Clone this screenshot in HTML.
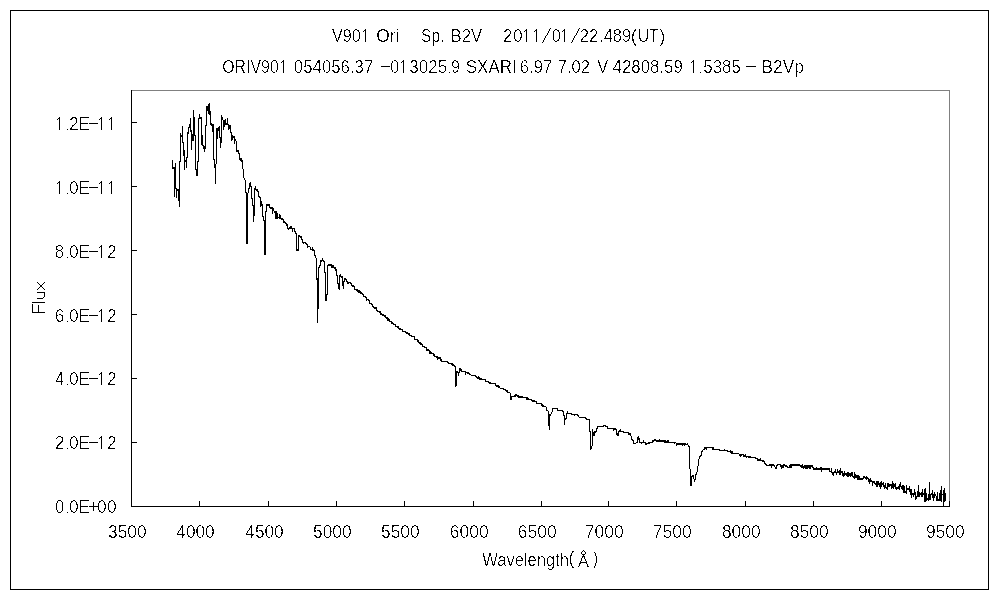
<!DOCTYPE html>
<html><head><meta charset="utf-8"><style>
html,body{margin:0;padding:0;background:#fff;}
svg{display:block;}
text{font-family:"Liberation Sans",sans-serif;font-size:18px;fill:#000;}
</style></head><body>
<svg width="1000" height="600" viewBox="0 0 1000 600">
<defs><filter id="bin" x="0" y="0" width="100%" height="100%" filterUnits="userSpaceOnUse"><feComponentTransfer><feFuncA type="discrete" tableValues="0 0 1"/></feComponentTransfer></filter></defs>
<rect x="0" y="0" width="1000" height="600" fill="#fff"/>
<g shape-rendering="crispEdges">
<rect x="10.5" y="10.5" width="978" height="579" fill="none" stroke="#000"/>
<line x1="131" y1="90.5" x2="950" y2="90.5" stroke="#808080"/>
<line x1="949.5" y1="90" x2="949.5" y2="506" stroke="#808080"/>
<line x1="131.5" y1="90" x2="131.5" y2="507" stroke="#000"/>
<line x1="131" y1="506.5" x2="950" y2="506.5" stroke="#000"/>
<line x1="131.5" y1="501" x2="131.5" y2="506" stroke="#000"/>
<line x1="199.5" y1="501" x2="199.5" y2="506" stroke="#000"/>
<line x1="268.5" y1="501" x2="268.5" y2="506" stroke="#000"/>
<line x1="336.5" y1="501" x2="336.5" y2="506" stroke="#000"/>
<line x1="404.5" y1="501" x2="404.5" y2="506" stroke="#000"/>
<line x1="473.5" y1="501" x2="473.5" y2="506" stroke="#000"/>
<line x1="541.5" y1="501" x2="541.5" y2="506" stroke="#000"/>
<line x1="608.5" y1="501" x2="608.5" y2="506" stroke="#000"/>
<line x1="676.5" y1="501" x2="676.5" y2="506" stroke="#000"/>
<line x1="745.5" y1="501" x2="745.5" y2="506" stroke="#000"/>
<line x1="813.5" y1="501" x2="813.5" y2="506" stroke="#000"/>
<line x1="881.5" y1="501" x2="881.5" y2="506" stroke="#000"/>
<line x1="949.5" y1="501" x2="949.5" y2="506" stroke="#000"/>
<line x1="131" y1="506.5" x2="137" y2="506.5" stroke="#000"/>
<line x1="131" y1="442.5" x2="137" y2="442.5" stroke="#000"/>
<line x1="131" y1="378.5" x2="137" y2="378.5" stroke="#000"/>
<line x1="131" y1="314.5" x2="137" y2="314.5" stroke="#000"/>
<line x1="131" y1="250.5" x2="137" y2="250.5" stroke="#000"/>
<line x1="131" y1="186.5" x2="137" y2="186.5" stroke="#000"/>
<line x1="131" y1="122.5" x2="137" y2="122.5" stroke="#000"/>
<path fill="#000" d="M172 160h1v9h-1zM173 167h1v2h-1zM174 167h1v30h-1zM175 163h1v26h-1zM176 188h1v10h-1zM177 189h1v2h-1zM178 189h1v12h-1zM179 161h1v46h-1zM180 133h1v29h-1zM181 135h1v2h-1zM182 126h1v17h-1zM183 142h1v14h-1zM184 150h1v20h-1zM185 160h1v2h-1zM186 157h1v11h-1zM187 132h1v26h-1zM188 127h1v7h-1zM189 124h1v4h-1zM190 118h1v14h-1zM191 130h1v20h-1zM192 134h1v7h-1zM193 110h1v31h-1zM194 117h1v19h-1zM195 135h1v35h-1zM196 169h1v7h-1zM197 161h1v15h-1zM198 118h1v44h-1zM199 114h1v5h-1zM200 117h1v2h-1zM201 117h1v28h-1zM202 135h1v11h-1zM203 145h1v4h-1zM204 146h1v6h-1zM205 125h1v24h-1zM206 106h1v20h-1zM207 106h1v5h-1zM208 104h1v10h-1zM209 103h1v12h-1zM210 111h1v14h-1zM211 123h1v3h-1zM212 124h1v8h-1zM213 124h1v36h-1zM214 159h1v9h-1zM215 164h1v20h-1zM216 128h1v36h-1zM217 128h1v11h-1zM218 127h1v4h-1zM219 126h1v12h-1zM220 137h1v11h-1zM221 115h1v28h-1zM222 117h1v3h-1zM223 120h1v10h-1zM224 120h1v7h-1zM225 119h1v6h-1zM226 123h1v2h-1zM227 118h1v7h-1zM228 124h1v6h-1zM229 125h1v4h-1zM230 125h1v8h-1zM231 132h1v9h-1zM232 135h1v5h-1zM233 136h1v2h-1zM234 136h1v8h-1zM235 139h1v2h-1zM236 141h1v11h-1zM237 150h1v2h-1zM238 150h1v4h-1zM239 153h1v7h-1zM240 158h1v3h-1zM241 158h1v4h-1zM242 160h1v9h-1zM243 169h1v9h-1zM244 178h1v2h-1zM245 180h1v13h-1zM246 192h1v52h-1zM247 193h1v51h-1zM248 188h1v5h-1zM249 183h1v6h-1zM250 182h1v5h-1zM251 186h1v13h-1zM252 198h1v8h-1zM253 205h1v17h-1zM254 188h1v28h-1zM255 186h1v4h-1zM256 189h1v2h-1zM257 189h1v3h-1zM258 191h1v6h-1zM259 196h1v2h-1zM260 197h1v10h-1zM261 201h1v5h-1zM262 204h1v13h-1zM263 216h1v5h-1zM264 220h1v35h-1zM265 211h1v44h-1zM266 204h1v8h-1zM267 204h1v2h-1zM268 204h1v2h-1zM269 204h1v4h-1zM270 207h1v2h-1zM271 207h1v2h-1zM272 207h1v7h-1zM273 208h1v3h-1zM274 211h1v2h-1zM275 211h1v8h-1zM276 211h1v8h-1zM277 213h1v6h-1zM278 217h1v1h-1zM279 214h1v5h-1zM280 215h1v4h-1zM281 218h1v2h-1zM282 218h1v2h-1zM283 219h1v4h-1zM284 221h1v2h-1zM285 222h1v2h-1zM286 223h1v3h-1zM287 224h1v5h-1zM288 228h1v2h-1zM289 227h1v2h-1zM290 226h1v3h-1zM291 226h1v3h-1zM292 228h1v4h-1zM293 228h1v1h-1zM294 228h1v4h-1zM295 231h1v3h-1zM296 233h1v18h-1zM297 249h1v2h-1zM298 235h1v16h-1zM299 235h1v2h-1zM300 236h1v2h-1zM301 236h1v4h-1zM302 239h1v4h-1zM303 242h1v2h-1zM304 242h1v1h-1zM305 242h1v2h-1zM306 243h1v2h-1zM307 244h1v4h-1zM308 246h1v1h-1zM309 246h1v1h-1zM310 247h1v3h-1zM311 249h1v1h-1zM312 247h1v4h-1zM313 249h1v2h-1zM314 250h1v6h-1zM315 255h1v3h-1zM316 258h1v22h-1zM317 278h1v45h-1zM318 267h1v42h-1zM319 265h1v3h-1zM320 260h1v6h-1zM321 260h1v2h-1zM322 258h1v3h-1zM323 260h1v2h-1zM324 261h1v12h-1zM325 272h1v29h-1zM326 294h1v7h-1zM327 265h1v30h-1zM328 264h1v2h-1zM329 264h1v2h-1zM330 264h1v2h-1zM331 264h1v4h-1zM332 265h1v3h-1zM333 265h1v3h-1zM334 267h1v2h-1zM335 267h1v4h-1zM336 269h1v7h-1zM337 275h1v9h-1zM338 283h1v6h-1zM339 275h1v15h-1zM340 274h1v3h-1zM341 276h1v2h-1zM342 276h1v10h-1zM343 281h1v8h-1zM344 278h1v4h-1zM345 278h1v2h-1zM346 279h1v3h-1zM347 281h1v3h-1zM348 282h1v2h-1zM349 282h1v1h-1zM350 282h1v2h-1zM351 283h1v3h-1zM352 285h1v2h-1zM353 285h1v2h-1zM354 286h1v4h-1zM355 289h1v1h-1zM356 289h1v2h-1zM357 289h1v3h-1zM358 290h1v3h-1zM359 290h1v3h-1zM360 291h1v3h-1zM361 292h1v2h-1zM362 293h1v2h-1zM363 294h1v3h-1zM364 296h1v1h-1zM365 296h1v2h-1zM366 297h1v4h-1zM367 299h1v1h-1zM368 299h1v2h-1zM369 300h1v4h-1zM370 303h1v1h-1zM371 303h1v2h-1zM372 304h1v3h-1zM373 306h1v2h-1zM374 307h1v2h-1zM375 307h1v2h-1zM376 307h1v4h-1zM377 310h1v2h-1zM378 311h1v1h-1zM379 311h1v2h-1zM380 311h1v4h-1zM381 313h1v2h-1zM382 314h1v2h-1zM383 314h1v2h-1zM384 315h1v2h-1zM385 315h1v3h-1zM386 317h1v2h-1zM387 317h1v4h-1zM388 318h1v3h-1zM389 319h1v3h-1zM390 321h1v1h-1zM391 321h1v3h-1zM392 322h1v2h-1zM393 323h1v2h-1zM394 324h1v1h-1zM395 324h1v3h-1zM396 326h1v1h-1zM397 326h1v2h-1zM398 326h1v3h-1zM399 328h1v2h-1zM400 328h1v2h-1zM401 329h1v1h-1zM402 329h1v3h-1zM403 331h1v1h-1zM404 331h1v1h-1zM405 331h1v2h-1zM406 332h1v2h-1zM407 332h1v2h-1zM408 333h1v2h-1zM409 333h1v3h-1zM410 335h1v1h-1zM411 335h1v2h-1zM412 336h1v1h-1zM413 336h1v1h-1zM414 336h1v4h-1zM415 339h1v1h-1zM416 339h1v1h-1zM417 339h1v3h-1zM418 340h1v3h-1zM419 342h1v2h-1zM420 342h1v3h-1zM421 343h1v2h-1zM422 344h1v3h-1zM423 346h1v1h-1zM424 346h1v2h-1zM425 347h1v1h-1zM426 347h1v4h-1zM427 349h1v2h-1zM428 349h1v2h-1zM429 350h1v4h-1zM430 351h1v3h-1zM431 352h1v2h-1zM432 353h1v1h-1zM433 353h1v3h-1zM434 354h1v3h-1zM435 356h1v1h-1zM436 356h1v2h-1zM437 356h1v4h-1zM438 357h1v2h-1zM439 357h1v2h-1zM440 357h1v4h-1zM441 359h1v3h-1zM442 361h1v1h-1zM443 361h1v1h-1zM444 361h1v1h-1zM445 361h1v1h-1zM446 361h1v1h-1zM447 361h1v2h-1zM448 362h1v2h-1zM449 363h1v1h-1zM450 363h1v1h-1zM451 363h1v2h-1zM452 363h1v3h-1zM453 364h1v2h-1zM454 365h1v2h-1zM455 366h1v21h-1zM456 371h1v15h-1zM457 371h1v2h-1zM458 372h1v4h-1zM459 368h1v5h-1zM460 368h1v3h-1zM461 369h1v3h-1zM462 371h1v1h-1zM463 371h1v1h-1zM464 371h1v1h-1zM465 371h1v4h-1zM466 372h1v1h-1zM467 372h1v2h-1zM468 372h1v2h-1zM469 373h1v2h-1zM470 374h1v1h-1zM471 375h1v1h-1zM472 375h1v1h-1zM473 375h1v1h-1zM474 375h1v1h-1zM475 375h1v2h-1zM476 376h1v2h-1zM477 377h1v2h-1zM478 376h1v3h-1zM479 377h1v3h-1zM480 378h1v2h-1zM481 378h1v2h-1zM482 379h1v1h-1zM483 379h1v1h-1zM484 379h1v1h-1zM485 379h1v3h-1zM486 381h1v1h-1zM487 381h1v1h-1zM488 381h1v2h-1zM489 382h1v2h-1zM490 382h1v2h-1zM491 383h1v1h-1zM492 383h1v1h-1zM493 383h1v1h-1zM494 383h1v1h-1zM495 383h1v3h-1zM496 385h1v2h-1zM497 385h1v2h-1zM498 385h1v3h-1zM499 386h1v2h-1zM500 388h1v1h-1zM501 388h1v1h-1zM502 388h1v1h-1zM503 388h1v2h-1zM504 389h1v1h-1zM505 389h1v2h-1zM506 390h1v2h-1zM507 390h1v3h-1zM508 392h1v1h-1zM509 392h1v1h-1zM510 393h1v7h-1zM511 396h1v4h-1zM512 396h1v1h-1zM513 396h1v1h-1zM514 395h1v2h-1zM515 394h1v3h-1zM516 394h1v2h-1zM517 395h1v2h-1zM518 395h1v3h-1zM519 396h1v2h-1zM520 396h1v2h-1zM521 396h1v2h-1zM522 396h1v2h-1zM523 397h1v1h-1zM524 397h1v1h-1zM525 397h1v1h-1zM526 397h1v3h-1zM527 397h1v3h-1zM528 398h1v2h-1zM529 399h1v1h-1zM530 399h1v1h-1zM531 399h1v2h-1zM532 400h1v2h-1zM533 400h1v2h-1zM534 400h1v2h-1zM535 401h1v1h-1zM536 401h1v3h-1zM537 403h1v1h-1zM538 403h1v1h-1zM539 403h1v1h-1zM540 403h1v1h-1zM541 403h1v3h-1zM542 404h1v3h-1zM543 405h1v2h-1zM544 406h1v1h-1zM545 406h1v1h-1zM546 407h1v4h-1zM547 410h1v1h-1zM548 411h1v15h-1zM549 414h1v16h-1zM550 414h1v2h-1zM551 412h1v2h-1zM552 408h1v4h-1zM553 408h1v1h-1zM554 408h1v1h-1zM555 408h1v1h-1zM556 408h1v1h-1zM557 408h1v3h-1zM558 410h1v1h-1zM559 410h1v1h-1zM560 410h1v1h-1zM561 410h1v1h-1zM562 410h1v2h-1zM563 411h1v5h-1zM564 415h1v10h-1zM565 418h1v2h-1zM566 413h1v6h-1zM567 411h1v3h-1zM568 413h1v1h-1zM569 413h1v1h-1zM570 413h1v1h-1zM571 413h1v2h-1zM572 414h1v1h-1zM573 414h1v1h-1zM574 414h1v2h-1zM575 414h1v1h-1zM576 414h1v1h-1zM577 414h1v2h-1zM578 415h1v2h-1zM579 417h1v1h-1zM580 417h1v1h-1zM581 417h1v1h-1zM582 417h1v1h-1zM583 417h1v1h-1zM584 417h1v1h-1zM585 417h1v2h-1zM586 418h1v2h-1zM587 419h1v1h-1zM588 419h1v1h-1zM589 419h1v13h-1zM590 431h1v19h-1zM591 446h1v3h-1zM592 429h1v17h-1zM593 432h1v4h-1zM594 431h1v5h-1zM595 431h1v2h-1zM596 428h1v4h-1zM597 426h1v3h-1zM598 426h1v1h-1zM599 426h1v1h-1zM600 426h1v1h-1zM601 426h1v1h-1zM602 426h1v1h-1zM603 425h1v2h-1zM604 425h1v1h-1zM605 425h1v2h-1zM606 426h1v1h-1zM607 426h1v3h-1zM608 428h1v1h-1zM609 428h1v1h-1zM610 428h1v1h-1zM611 428h1v1h-1zM612 428h1v1h-1zM613 428h1v3h-1zM614 428h1v2h-1zM615 428h1v2h-1zM616 429h1v6h-1zM617 433h1v3h-1zM618 431h1v5h-1zM619 430h1v2h-1zM620 429h1v3h-1zM621 431h1v1h-1zM622 431h1v1h-1zM623 431h1v2h-1zM624 432h1v1h-1zM625 432h1v1h-1zM626 432h1v1h-1zM627 432h1v1h-1zM628 432h1v3h-1zM629 433h1v2h-1zM630 433h1v3h-1zM631 436h1v4h-1zM632 439h1v2h-1zM633 440h1v4h-1zM634 443h1v1h-1zM635 443h1v1h-1zM636 442h1v1h-1zM637 437h1v6h-1zM638 436h1v4h-1zM639 438h1v5h-1zM640 442h1v1h-1zM641 442h1v2h-1zM642 442h1v1h-1zM643 440h1v3h-1zM644 442h1v1h-1zM645 442h1v3h-1zM646 443h1v2h-1zM647 443h1v1h-1zM648 442h1v2h-1zM649 442h1v2h-1zM650 442h1v1h-1zM651 442h1v1h-1zM652 440h1v3h-1zM653 440h1v2h-1zM654 439h1v2h-1zM655 439h1v2h-1zM656 440h1v2h-1zM657 440h1v2h-1zM658 440h1v2h-1zM659 439h1v3h-1zM660 440h1v2h-1zM661 440h1v2h-1zM662 440h1v2h-1zM663 440h1v2h-1zM664 440h1v3h-1zM665 440h1v3h-1zM666 441h1v2h-1zM667 440h1v3h-1zM668 440h1v3h-1zM669 442h1v1h-1zM670 442h1v1h-1zM671 442h1v1h-1zM672 442h1v1h-1zM673 442h1v1h-1zM674 442h1v2h-1zM675 442h1v1h-1zM676 443h1v3h-1zM677 443h1v2h-1zM678 443h1v2h-1zM679 443h1v2h-1zM680 443h1v2h-1zM681 443h1v2h-1zM682 443h1v3h-1zM683 443h1v2h-1zM684 443h1v3h-1zM685 443h1v2h-1zM686 444h1v1h-1zM687 443h1v2h-1zM688 445h1v2h-1zM689 446h1v23h-1zM690 469h1v17h-1zM691 476h1v10h-1zM692 475h1v2h-1zM693 475h1v4h-1zM694 479h1v3h-1zM695 474h1v6h-1zM696 472h1v3h-1zM697 466h1v6h-1zM698 459h1v7h-1zM699 456h1v3h-1zM700 455h1v2h-1zM701 451h1v5h-1zM702 450h1v2h-1zM703 449h1v1h-1zM704 447h1v3h-1zM705 447h1v2h-1zM706 447h1v3h-1zM707 447h1v1h-1zM708 447h1v1h-1zM709 447h1v1h-1zM710 447h1v1h-1zM711 447h1v1h-1zM712 447h1v3h-1zM713 447h1v3h-1zM714 449h1v1h-1zM715 449h1v1h-1zM716 449h1v1h-1zM717 449h1v1h-1zM718 449h1v1h-1zM719 449h1v2h-1zM720 450h1v1h-1zM721 450h1v1h-1zM722 450h1v1h-1zM723 450h1v1h-1zM724 449h1v2h-1zM725 450h1v1h-1zM726 450h1v1h-1zM727 450h1v2h-1zM728 451h1v1h-1zM729 451h1v1h-1zM730 450h1v3h-1zM731 451h1v3h-1zM732 451h1v3h-1zM733 453h1v1h-1zM734 453h1v1h-1zM735 453h1v1h-1zM736 453h1v1h-1zM737 453h1v1h-1zM738 453h1v1h-1zM739 454h1v2h-1zM740 454h1v3h-1zM741 454h1v2h-1zM742 454h1v1h-1zM743 454h1v3h-1zM744 455h1v2h-1zM745 454h1v3h-1zM746 456h1v2h-1zM747 456h1v1h-1zM748 456h1v2h-1zM749 456h1v2h-1zM750 456h1v2h-1zM751 457h1v1h-1zM752 457h1v1h-1zM753 457h1v1h-1zM754 457h1v1h-1zM755 457h1v2h-1zM756 458h1v1h-1zM757 458h1v3h-1zM758 459h1v2h-1zM759 459h1v2h-1zM760 458h1v3h-1zM761 460h1v1h-1zM762 460h1v2h-1zM763 460h1v2h-1zM764 461h1v3h-1zM765 463h1v2h-1zM766 464h1v2h-1zM767 465h1v1h-1zM768 465h1v1h-1zM769 464h1v2h-1zM770 464h1v2h-1zM771 464h1v4h-1zM772 464h1v2h-1zM773 464h1v2h-1zM774 465h1v2h-1zM775 467h1v2h-1zM776 465h1v4h-1zM777 464h1v2h-1zM778 464h1v1h-1zM779 464h1v1h-1zM780 464h1v3h-1zM781 465h1v4h-1zM782 465h1v3h-1zM783 464h1v4h-1zM784 464h1v2h-1zM785 465h1v2h-1zM786 465h1v2h-1zM787 466h1v2h-1zM788 467h1v1h-1zM789 465h1v3h-1zM790 464h1v4h-1zM791 464h1v4h-1zM792 464h1v2h-1zM793 464h1v2h-1zM794 464h1v2h-1zM795 464h1v2h-1zM796 464h1v2h-1zM797 464h1v2h-1zM798 464h1v2h-1zM799 464h1v2h-1zM800 465h1v2h-1zM801 465h1v3h-1zM802 464h1v4h-1zM803 466h1v3h-1zM804 465h1v3h-1zM805 465h1v4h-1zM806 465h1v4h-1zM807 465h1v4h-1zM808 465h1v3h-1zM809 465h1v4h-1zM810 465h1v4h-1zM811 465h1v2h-1zM812 465h1v3h-1zM813 467h1v3h-1zM814 468h1v2h-1zM815 468h1v2h-1zM816 467h1v3h-1zM817 468h1v2h-1zM818 468h1v2h-1zM819 468h1v2h-1zM820 467h1v3h-1zM821 467h1v5h-1zM822 468h1v2h-1zM823 468h1v2h-1zM824 468h1v2h-1zM825 468h1v2h-1zM826 468h1v2h-1zM827 468h1v2h-1zM828 468h1v2h-1zM829 468h1v4h-1zM830 471h1v1h-1zM831 468h1v5h-1zM832 472h1v3h-1zM833 472h1v4h-1zM834 471h1v2h-1zM835 469h1v4h-1zM836 472h1v3h-1zM837 469h1v4h-1zM838 471h1v2h-1zM839 470h1v5h-1zM840 468h1v7h-1zM841 471h1v2h-1zM842 471h1v5h-1zM843 473h1v4h-1zM844 471h1v5h-1zM845 473h1v2h-1zM846 473h1v3h-1zM847 472h1v5h-1zM848 472h1v5h-1zM849 473h1v3h-1zM850 473h1v4h-1zM851 472h1v4h-1zM852 472h1v5h-1zM853 476h1v2h-1zM854 472h1v7h-1zM855 474h1v4h-1zM856 475h1v3h-1zM857 475h1v5h-1zM858 475h1v5h-1zM859 476h1v4h-1zM860 478h1v2h-1zM861 478h1v2h-1zM862 478h1v2h-1zM863 476h1v3h-1zM864 476h1v2h-1zM865 477h1v2h-1zM866 476h1v4h-1zM867 477h1v2h-1zM868 478h1v4h-1zM869 479h1v5h-1zM870 478h1v4h-1zM871 480h1v2h-1zM872 481h1v5h-1zM873 481h1v2h-1zM874 481h1v3h-1zM875 483h1v2h-1zM876 481h1v6h-1zM877 481h1v6h-1zM878 481h1v4h-1zM879 483h1v4h-1zM880 482h1v7h-1zM881 481h1v6h-1zM882 483h1v2h-1zM883 482h1v5h-1zM884 485h1v4h-1zM885 483h1v5h-1zM886 487h1v2h-1zM887 483h1v7h-1zM888 483h1v4h-1zM889 484h1v3h-1zM890 484h1v2h-1zM891 484h1v5h-1zM892 481h1v7h-1zM893 483h1v6h-1zM894 484h1v3h-1zM895 483h1v6h-1zM896 487h1v3h-1zM897 487h1v2h-1zM898 486h1v3h-1zM899 484h1v6h-1zM900 482h1v5h-1zM901 486h1v3h-1zM902 485h1v5h-1zM903 485h1v8h-1zM904 486h1v7h-1zM905 491h1v2h-1zM906 485h1v9h-1zM907 488h1v2h-1zM908 488h1v2h-1zM909 486h1v6h-1zM910 489h1v6h-1zM911 489h1v9h-1zM912 493h1v2h-1zM913 493h1v4h-1zM914 489h1v6h-1zM915 492h1v8h-1zM916 496h1v3h-1zM917 491h1v6h-1zM918 485h1v12h-1zM919 492h1v5h-1zM920 493h1v2h-1zM921 492h1v5h-1zM922 489h1v8h-1zM923 493h1v2h-1zM924 489h1v13h-1zM925 488h1v14h-1zM926 493h1v8h-1zM927 498h1v2h-1zM928 494h1v7h-1zM929 482h1v18h-1zM930 494h1v6h-1zM931 493h1v2h-1zM932 490h1v8h-1zM933 494h1v7h-1zM934 492h1v6h-1zM935 494h1v2h-1zM936 496h1v5h-1zM937 492h1v9h-1zM938 499h1v2h-1zM939 493h1v8h-1zM940 490h1v11h-1zM941 486h1v16h-1zM942 494h1v1h-1zM943 490h1v17h-1zM944 488h1v14h-1zM945 493h1v8h-1z"/>

<path d="M32 304h1v9h-1zM38 305h1v8h-1zM32 312h13v1h-13zM32 302h13v1h-13zM37 292h8v1h-8zM44 293h1v4h-1zM43 297h1v1h-1zM37 298h6v1h-6zM37 282h1v1h-1zM37 289h1v1h-1zM38 283h1v1h-1zM38 288h1v1h-1zM39 284h1v1h-1zM39 287h1v1h-1zM40 285h1v1h-1zM40 286h1v1h-1zM41 286h1v1h-1zM41 285h1v1h-1zM42 287h1v1h-1zM42 284h1v1h-1zM43 288h1v1h-1zM43 283h1v1h-1zM44 289h1v1h-1zM44 282h1v1h-1z" fill="#000" shape-rendering="crispEdges"/></g>
<g filter="url(#bin)">
<text x="331.93" y="42" textLength="28.70" lengthAdjust="spacingAndGlyphs">V90</text>
<text x="376.18" y="42" textLength="23.20" lengthAdjust="spacingAndGlyphs">Ori</text>
<text x="421.09" y="42" textLength="23.43" lengthAdjust="spacingAndGlyphs">Sp.</text>
<text x="450.53" y="42" textLength="31.65" lengthAdjust="spacingAndGlyphs">B2V</text>
<text x="502.97" y="42" textLength="9.16" lengthAdjust="spacingAndGlyphs">2</text>
<text x="513.35" y="42" textLength="9.31" lengthAdjust="spacingAndGlyphs">0</text>
<text x="551.67" y="42" textLength="8.96" lengthAdjust="spacingAndGlyphs">0</text>
<text x="579.87" y="42" textLength="18.36" lengthAdjust="spacingAndGlyphs">22</text>
<text x="599.75" y="42" textLength="3.79" lengthAdjust="spacingAndGlyphs">.</text>
<text x="603.72" y="42" textLength="27.35" lengthAdjust="spacingAndGlyphs">489</text>
<text x="630.83" y="42" textLength="6.28" lengthAdjust="spacingAndGlyphs">(</text>
<text x="638.12" y="42" textLength="20.43" lengthAdjust="spacingAndGlyphs">UT</text>
<text x="659.40" y="42" textLength="5.65" lengthAdjust="spacingAndGlyphs">)</text>
<path d="M526 29h1v13h-1zM525 30h1v1h-1zM524 31h1v1h-1z" fill="#000"/>
<path d="M536 29h1v13h-1zM535 30h1v1h-1zM534 31h1v1h-1z" fill="#000"/>
<path d="M564 29h1v13h-1zM563 30h1v1h-1zM562 31h1v1h-1z" fill="#000"/>
<path d="M550 28h1v1h-1zM549 29h1v1h-1zM549 30h1v1h-1zM548 31h1v1h-1zM548 32h1v1h-1zM547 33h1v1h-1zM547 34h1v1h-1zM546 35h1v1h-1zM545 36h1v1h-1zM545 37h1v1h-1zM544 38h1v1h-1zM544 39h1v1h-1zM543 40h1v1h-1zM543 41h1v1h-1zM542 42h1v1h-1z" fill="#000"/>
<path d="M579 28h1v1h-1zM578 29h1v1h-1zM578 30h1v1h-1zM577 31h1v1h-1zM577 32h1v1h-1zM576 33h1v1h-1zM576 34h1v1h-1zM575 35h1v1h-1zM574 36h1v1h-1zM574 37h1v1h-1zM573 38h1v1h-1zM573 39h1v1h-1zM572 40h1v1h-1zM572 41h1v1h-1zM571 42h1v1h-1z" fill="#000"/>
<text x="222.25" y="73" textLength="56.47" lengthAdjust="spacingAndGlyphs">ORIV90</text>
<text x="293.84" y="73" textLength="79.50" lengthAdjust="spacingAndGlyphs">054056.37</text>
<text x="389.95" y="73" textLength="9.31" lengthAdjust="spacingAndGlyphs">0</text>
<text x="409.25" y="73" textLength="37.97" lengthAdjust="spacingAndGlyphs">3025</text>
<text x="451.28" y="73" textLength="8.55" lengthAdjust="spacingAndGlyphs">9</text>
<text x="465.73" y="73" textLength="51.04" lengthAdjust="spacingAndGlyphs">SXARI</text>
<text x="519.86" y="73" textLength="32.28" lengthAdjust="spacingAndGlyphs">6.97</text>
<text x="557.65" y="73" textLength="32.39" lengthAdjust="spacingAndGlyphs">7.02</text>
<text x="597.13" y="73" textLength="10.94" lengthAdjust="spacingAndGlyphs">V</text>
<text x="612.61" y="73" textLength="70.18" lengthAdjust="spacingAndGlyphs">42808.59</text>
<text x="703.32" y="73" textLength="37.59" lengthAdjust="spacingAndGlyphs">5385</text>
<text x="761.58" y="73" textLength="42.24" lengthAdjust="spacingAndGlyphs">B2Vp</text>
<path d="M283 60h1v13h-1zM282 61h1v1h-1zM281 62h1v1h-1z" fill="#000"/>
<path d="M403 60h1v13h-1zM402 61h1v1h-1zM401 62h1v1h-1z" fill="#000"/>
<path d="M693 60h1v13h-1zM692 61h1v1h-1zM691 62h1v1h-1z" fill="#000"/>
<path d="M365 29h1v13h-1zM364 30h1v1h-1zM363 31h1v1h-1z" fill="#000"/>
<path d="M381 66h9v1h-9zM746 66h10v1h-10zM449 72h1v1h-1zM700 72h1v1h-1z" fill="#000"/>
<text x="108.04" y="538" textLength="38.64" lengthAdjust="spacingAndGlyphs">3500</text>
<text x="176.30" y="538" textLength="38.37" lengthAdjust="spacingAndGlyphs">4000</text>
<text x="245.30" y="538" textLength="38.37" lengthAdjust="spacingAndGlyphs">4500</text>
<text x="313.00" y="538" textLength="38.68" lengthAdjust="spacingAndGlyphs">5000</text>
<text x="381.00" y="538" textLength="38.68" lengthAdjust="spacingAndGlyphs">5500</text>
<text x="449.81" y="538" textLength="38.87" lengthAdjust="spacingAndGlyphs">6000</text>
<text x="517.81" y="538" textLength="38.87" lengthAdjust="spacingAndGlyphs">6500</text>
<text x="584.80" y="538" textLength="38.88" lengthAdjust="spacingAndGlyphs">7000</text>
<text x="652.80" y="538" textLength="38.88" lengthAdjust="spacingAndGlyphs">7500</text>
<text x="721.94" y="538" textLength="38.74" lengthAdjust="spacingAndGlyphs">8000</text>
<text x="789.94" y="538" textLength="38.74" lengthAdjust="spacingAndGlyphs">8500</text>
<text x="857.88" y="538" textLength="38.80" lengthAdjust="spacingAndGlyphs">9000</text>
<text x="925.88" y="538" textLength="38.80" lengthAdjust="spacingAndGlyphs">9500</text>
<text x="54.95" y="513" textLength="9.19" lengthAdjust="spacingAndGlyphs">0</text>
<rect x="67" y="512" width="1" height="1" fill="#000"/>
<text x="69.35" y="513" textLength="9.31" lengthAdjust="spacingAndGlyphs">0</text>
<path d="M80 500h9v1h-8v5h7v1h-7v5h8v1h-9z" fill="#000"/>
<rect x="89" y="506" width="9" height="1" fill="#000"/>
<rect x="93" y="502" width="1" height="9" fill="#000"/>
<text x="97.35" y="513" textLength="9.31" lengthAdjust="spacingAndGlyphs">0</text>
<text x="107.35" y="513" textLength="9.31" lengthAdjust="spacingAndGlyphs">0</text>
<text x="54.73" y="449" textLength="9.64" lengthAdjust="spacingAndGlyphs">2</text>
<rect x="67" y="448" width="1" height="1" fill="#000"/>
<text x="69.35" y="449" textLength="9.31" lengthAdjust="spacingAndGlyphs">0</text>
<path d="M80 436h9v1h-8v5h7v1h-7v5h8v1h-9z" fill="#000"/>
<rect x="89" y="442" width="9" height="1" fill="#000"/>
<path d="M101 436h1v13h-1zM100 437h1v1h-1zM99 438h1v1h-1z" fill="#000"/>
<text x="107.17" y="449" textLength="9.16" lengthAdjust="spacingAndGlyphs">2</text>
<text x="55.24" y="385" textLength="8.72" lengthAdjust="spacingAndGlyphs">4</text>
<rect x="67" y="384" width="1" height="1" fill="#000"/>
<text x="69.35" y="385" textLength="9.31" lengthAdjust="spacingAndGlyphs">0</text>
<path d="M80 372h9v1h-8v5h7v1h-7v5h8v1h-9z" fill="#000"/>
<rect x="89" y="378" width="9" height="1" fill="#000"/>
<path d="M101 372h1v13h-1zM100 373h1v1h-1zM99 374h1v1h-1z" fill="#000"/>
<text x="107.17" y="385" textLength="9.16" lengthAdjust="spacingAndGlyphs">2</text>
<text x="54.73" y="322" textLength="9.52" lengthAdjust="spacingAndGlyphs">6</text>
<rect x="67" y="321" width="1" height="1" fill="#000"/>
<text x="69.35" y="322" textLength="9.31" lengthAdjust="spacingAndGlyphs">0</text>
<path d="M80 309h9v1h-8v5h7v1h-7v5h8v1h-9z" fill="#000"/>
<rect x="89" y="315" width="9" height="1" fill="#000"/>
<path d="M101 309h1v13h-1zM100 310h1v1h-1zM99 311h1v1h-1z" fill="#000"/>
<text x="107.17" y="322" textLength="9.16" lengthAdjust="spacingAndGlyphs">2</text>
<text x="54.87" y="258" textLength="9.36" lengthAdjust="spacingAndGlyphs">8</text>
<rect x="67" y="257" width="1" height="1" fill="#000"/>
<text x="69.35" y="258" textLength="9.31" lengthAdjust="spacingAndGlyphs">0</text>
<path d="M80 245h9v1h-8v5h7v1h-7v5h8v1h-9z" fill="#000"/>
<rect x="89" y="251" width="9" height="1" fill="#000"/>
<path d="M101 245h1v13h-1zM100 246h1v1h-1zM99 247h1v1h-1z" fill="#000"/>
<text x="107.17" y="258" textLength="9.16" lengthAdjust="spacingAndGlyphs">2</text>
<path d="M59 181h1v13h-1zM58 182h1v1h-1zM57 183h1v1h-1z" fill="#000"/>
<rect x="67" y="193" width="1" height="1" fill="#000"/>
<text x="69.35" y="194" textLength="9.31" lengthAdjust="spacingAndGlyphs">0</text>
<path d="M80 181h9v1h-8v5h7v1h-7v5h8v1h-9z" fill="#000"/>
<rect x="89" y="187" width="9" height="1" fill="#000"/>
<path d="M101 181h1v13h-1zM100 182h1v1h-1zM99 183h1v1h-1z" fill="#000"/>
<path d="M111 181h1v13h-1zM110 182h1v1h-1zM109 183h1v1h-1z" fill="#000"/>
<path d="M59 117h1v13h-1zM58 118h1v1h-1zM57 119h1v1h-1z" fill="#000"/>
<rect x="67" y="129" width="1" height="1" fill="#000"/>
<text x="69.12" y="130" textLength="9.77" lengthAdjust="spacingAndGlyphs">2</text>
<path d="M80 117h9v1h-8v5h7v1h-7v5h8v1h-9z" fill="#000"/>
<rect x="89" y="123" width="9" height="1" fill="#000"/>
<path d="M101 117h1v13h-1zM100 118h1v1h-1zM99 119h1v1h-1z" fill="#000"/>
<path d="M111 117h1v13h-1zM110 118h1v1h-1zM109 119h1v1h-1z" fill="#000"/>
<text x="482.23" y="566" textLength="86.74" lengthAdjust="spacingAndGlyphs">Wavelength</text>
<text x="568.79" y="564" textLength="5.40" lengthAdjust="spacingAndGlyphs">(</text>
<text x="577.77" y="566.5" textLength="11.27" lengthAdjust="spacingAndGlyphs" style="font-size:17.4px">A</text>
<circle cx="583.5" cy="552.8" r="1.9" fill="none" stroke="#000" stroke-width="1.1"/>
<text x="592.91" y="564" textLength="5.02" lengthAdjust="spacingAndGlyphs">)</text>
</g>
</svg></body></html>
